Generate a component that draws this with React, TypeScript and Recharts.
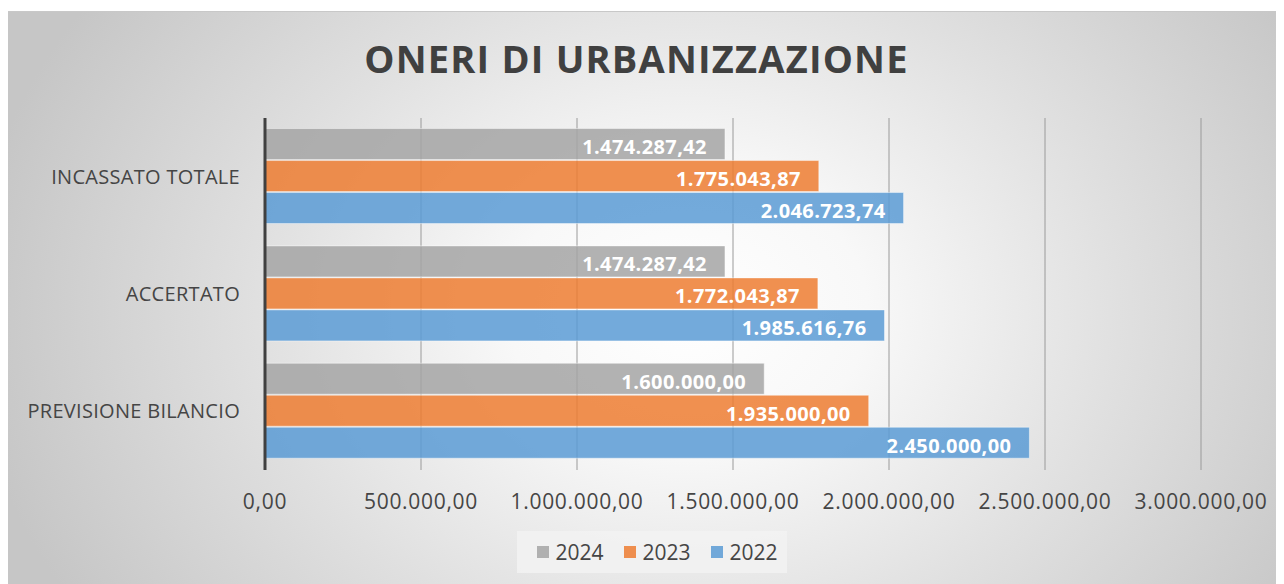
import React from 'react';
import { BarChart, Bar, XAxis, YAxis, CartesianGrid, Legend, LabelList } from 'recharts';

const categories = ['INCASSATO TOTALE', 'ACCERTATO', 'PREVISIONE BILANCIO'];
const values2024 = [1474287.42, 1474287.42, 1600000.0];
const values2023 = [1775043.87, 1772043.87, 1935000.0];
const values2022 = [2046723.74, 1985616.76, 2450000.0];
const xTicks = [0, 500000, 1000000, 1500000, 2000000, 2500000, 3000000];

const series = [
  { key: 'y2024', name: '2024', color: '#a5a5a5' },
  { key: 'y2023', name: '2023', color: '#ed7d31' },
  { key: 'y2022', name: '2022', color: '#5b9bd5' },
];

const data = categories.map((cat, i) => ({
  cat,
  y2024: values2024[i],
  y2023: values2023[i],
  y2022: values2022[i],
}));

// formato italiano: 1.474.287,42
const fmt = (v: number) => {
  const [int, dec] = Number(v).toFixed(2).split('.');
  return int.replace(/\B(?=(\d{3})+(?!\d))/g, '.') + ',' + dec;
};

const FONT = '"Open Sans", sans-serif';
const TEXT = '#454545';
const W = 1276;
const H = 573;

const LegendBox = () => (
  <div
    style={{
      width: 270,
      height: 42,
      background: 'rgba(242,242,242,0.85)',
      display: 'flex',
      alignItems: 'center',
      paddingLeft: 20,
      boxSizing: 'border-box',
      fontFamily: FONT,
      fontSize: 21,
      color: TEXT,
    }}
  >
    {series.map((s) => (
      <div key={s.key} style={{ display: 'flex', alignItems: 'center', marginRight: 20 }}>
        <span
          style={{
            display: 'inline-block',
            width: 12,
            height: 12,
            background: s.color,
            opacity: 0.85,
            marginRight: 7,
          }}
        />
        <span>{s.name}</span>
      </div>
    ))}
  </div>
);

export default function App() {
  return (
    <div style={{ paddingTop: 3 }}>
      <div
        style={{
          position: 'relative',
          width: W,
          height: H,
          borderTop: '1px solid #c8c8c8',
          boxSizing: 'border-box',
          background:
            'radial-gradient(ellipse 720px 560px at 680px 300px, #ffffff 0%, #f8f8f8 25%, #e0e0e0 60%, #c6c6c6 100%)',
        }}
      >
        <div
          style={{
            position: 'absolute',
            top: 27,
            left: 0,
            width: 1257,
            textAlign: 'center',
            fontFamily: FONT,
            fontWeight: 700,
            fontSize: 38,
            letterSpacing: 1.2,
            lineHeight: 1,
            color: '#404040',
          }}
        >
          ONERI DI URBANIZZAZIONE
        </div>
        <BarChart
          width={W}
          height={H - 1}
          data={data}
          layout="vertical"
          margin={{ top: 106, right: 83, bottom: 11, left: 0 }}
          barCategoryGap="9%"
          barGap={1}
          style={{ position: 'absolute', top: 0, left: 0 }}
        >
          <CartesianGrid horizontal={false} stroke="#9a9a9a" strokeWidth={1} />
          <XAxis
            type="number"
            domain={[0, 3000000]}
            ticks={xTicks}
            tickFormatter={fmt}
            axisLine={false}
            tickLine={false}
            tickSize={0}
            tickMargin={24}
            height={61}
            interval={0}
            tick={{ fill: TEXT, fontSize: 21, fontFamily: FONT, letterSpacing: 0.7 }}
          />
          <YAxis
            type="category"
            dataKey="cat"
            width={257}
            tickLine={false}
            tickSize={0}
            tickMargin={25}
            axisLine={{ stroke: '#404040', strokeWidth: 3 }}
            tick={{ fill: TEXT, fontSize: 20, fontFamily: FONT, letterSpacing: 0.3 }}
          />
          <Legend
            verticalAlign="bottom"
            content={() => <LegendBox />}
            wrapperStyle={{ left: 508.5, bottom: 11, width: 270 }}
          />
          {series.map((s) => (
            <Bar
              key={s.key}
              dataKey={s.key}
              name={s.name}
              fill={s.color}
              fillOpacity={0.85}
              stroke="#ffffff"
              strokeOpacity={0.45}
              strokeWidth={1}
              isAnimationActive={false}
            >
              <LabelList
                dataKey={s.key}
                position="insideRight"
                offset={18}
                formatter={(v: any) => fmt(Number(v))}
                fill="#ffffff"
                dy={3}
                style={{ fontFamily: FONT, fontSize: 20, fontWeight: 700, letterSpacing: 0.4 }}
              />
            </Bar>
          ))}
        </BarChart>
      </div>
    </div>
  );
}
